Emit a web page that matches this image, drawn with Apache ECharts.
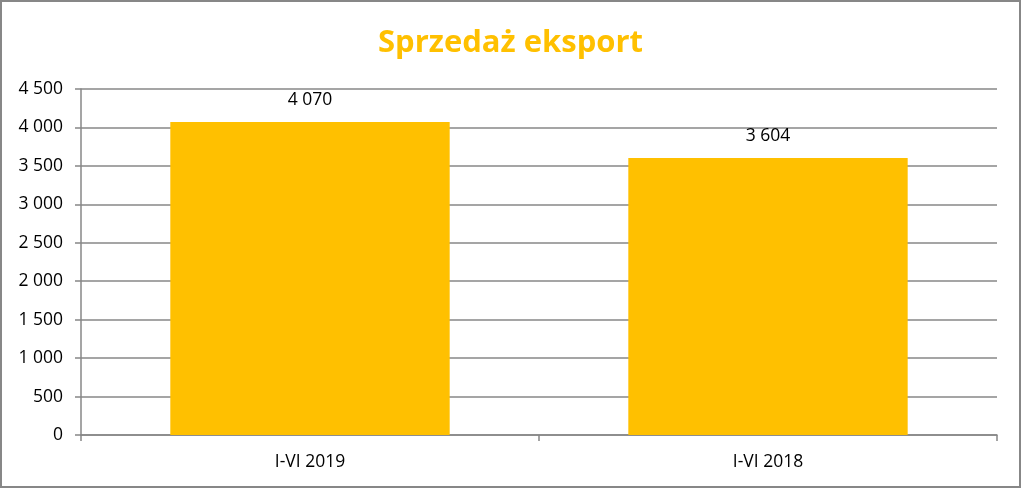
<!DOCTYPE html>
<html><head><meta charset="utf-8">
<script src="https://cdn.jsdelivr.net/npm/echarts@6/dist/echarts.min.js"></script>
<style>html,body{margin:0;padding:0;background:#fff}#c{width:1021px;height:488px;box-sizing:border-box;border:2px solid #878787}</style>
</head><body><div id="c"></div>
<script>
const categories = ["I-VI 2019", "I-VI 2018"];
const values = [4070, 3604];
const titleText = "Sprzedaż eksport";
const fmt = v => String(v).replace(/\B(?=(\d{3})+(?!\d))/g, " ");
const chart = echarts.init(document.getElementById('c'));
chart.setOption({
  animation: false,
  title: { text: titleText, left: 'center', top: 21, textStyle: { color: '#FFC000', fontSize: 31, fontWeight: 'bold', fontFamily: 'Open Sans' } },
  grid: { left: 79, right: 22, top: 87, bottom: 51, containLabel: false },
  xAxis: { type: 'category', data: categories,
    axisLine: { lineStyle: { color: '#878787', width: 1.5 } },
    axisTick: { show: true, length: 6, lineStyle: { color: '#878787', width: 1.5 } },
    axisLabel: { color: '#000', fontSize: 17.5, fontFamily: 'Open Sans', margin: 18 } },
  yAxis: { type: 'value', min: 0, max: 4500, interval: 500,
    axisLine: { show: true, lineStyle: { color: '#878787', width: 1.5 } },
    axisTick: { show: true, length: 6, lineStyle: { color: '#878787', width: 1.5 } },
    splitLine: { lineStyle: { color: '#878787', width: 1.5 } },
    axisLabel: { color: '#000', fontSize: 17.5, fontFamily: 'Open Sans', margin: 18, formatter: fmt } },
  series: [{ type: 'bar', data: values, barCategoryGap: '39%',
    itemStyle: { color: '#FFC000' },
    label: { show: true, position: 'top', distance: 13, color: '#000', fontSize: 17.5, fontFamily: 'Open Sans', formatter: p => fmt(p.value) } }]
});
</script></body></html>
